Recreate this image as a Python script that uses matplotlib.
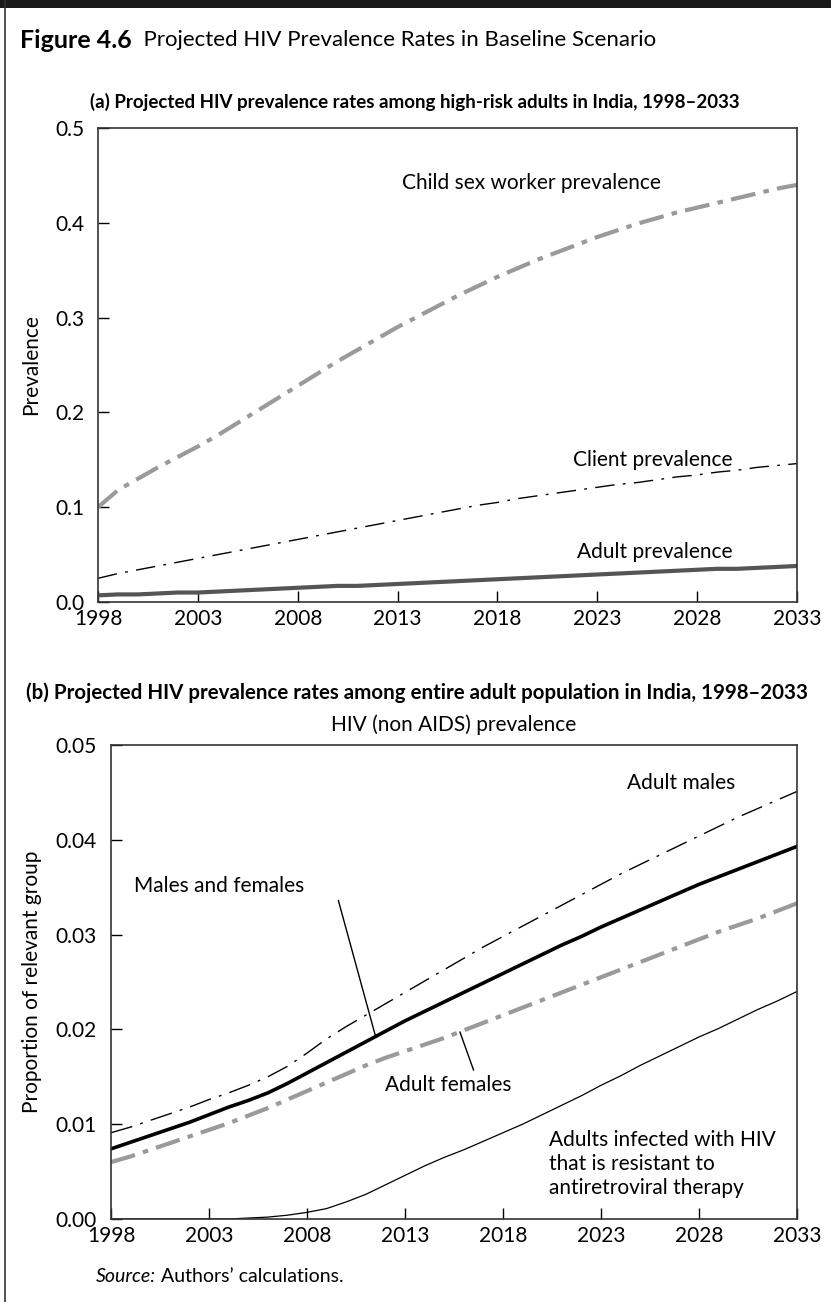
import matplotlib
matplotlib.use("Agg")
import matplotlib.pyplot as plt
from matplotlib.lines import Line2D
from matplotlib.patches import Rectangle
import numpy as np

plt.rcParams["font.family"] = ["Lato", "DejaVu Sans"]
plt.rcParams["lines.scale_dashes"] = False

years = list(range(1998, 2034))
xticks = [1998, 2003, 2008, 2013, 2018, 2023, 2028, 2033]

# panel (a): high-risk adults
child_sw = [0.100, 0.118, 0.130, 0.142, 0.153, 0.164, 0.176, 0.189, 0.202, 0.215,
            0.228, 0.241, 0.254, 0.266, 0.278, 0.290, 0.301, 0.312, 0.323, 0.333,
            0.343, 0.352, 0.361, 0.369, 0.377, 0.385, 0.392, 0.399, 0.405, 0.411,
            0.416, 0.421, 0.426, 0.431, 0.436, 0.440]
client = [0.025, 0.030, 0.034, 0.038, 0.042, 0.046, 0.050, 0.054, 0.058, 0.062,
          0.066, 0.070, 0.074, 0.078, 0.082, 0.086, 0.090, 0.094, 0.098, 0.102,
          0.105, 0.109, 0.112, 0.115, 0.118, 0.121, 0.124, 0.126, 0.129, 0.132,
          0.134, 0.137, 0.139, 0.142, 0.144, 0.146]
adult = [0.007, 0.008, 0.008, 0.009, 0.010, 0.010, 0.011, 0.012, 0.013, 0.014,
         0.015, 0.016, 0.017, 0.017, 0.018, 0.019, 0.020, 0.021, 0.022, 0.023,
         0.024, 0.025, 0.026, 0.027, 0.028, 0.029, 0.030, 0.031, 0.032, 0.033,
         0.034, 0.035, 0.035, 0.036, 0.037, 0.038]

# panel (b): entire adult population
males = [0.0091, 0.0097, 0.0104, 0.0111, 0.0118, 0.0126, 0.0133, 0.0141, 0.0150, 0.0161,
         0.0175, 0.0190, 0.0203, 0.0215, 0.0227, 0.0239, 0.0251, 0.0263, 0.0275, 0.0287,
         0.0298, 0.0309, 0.0320, 0.0331, 0.0342, 0.0353, 0.0364, 0.0374, 0.0384, 0.0394,
         0.0404, 0.0414, 0.0424, 0.0433, 0.0442, 0.0451]
both = [0.0074, 0.0081, 0.0088, 0.0095, 0.0102, 0.0110, 0.0118, 0.0125, 0.0133, 0.0143,
        0.0154, 0.0165, 0.0176, 0.0187, 0.0198, 0.0209, 0.0219, 0.0229, 0.0239, 0.0249,
        0.0259, 0.0269, 0.0279, 0.0289, 0.0298, 0.0308, 0.0317, 0.0326, 0.0335, 0.0344,
        0.0353, 0.0361, 0.0369, 0.0377, 0.0385, 0.0393]
females = [0.0060, 0.0066, 0.0073, 0.0080, 0.0087, 0.0094, 0.0101, 0.0109, 0.0117, 0.0126,
           0.0135, 0.0144, 0.0153, 0.0162, 0.0170, 0.0177, 0.0184, 0.0191, 0.0199, 0.0207,
           0.0215, 0.0223, 0.0231, 0.0239, 0.0247, 0.0255, 0.0263, 0.0271, 0.0279, 0.0287,
           0.0295, 0.0303, 0.0310, 0.0317, 0.0325, 0.0333]
resistant = [0, 0, 0, 0, 0, 0, 0, 0.0001, 0.0002, 0.0004,
             0.0007, 0.0011, 0.0018, 0.0026, 0.0036, 0.0046, 0.0056, 0.0065, 0.0073, 0.0082,
             0.0091, 0.0100, 0.0110, 0.0120, 0.0130, 0.0141, 0.0151, 0.0162, 0.0172, 0.0182,
             0.0192, 0.0201, 0.0211, 0.0221, 0.0230, 0.0240]

GREY = "#9a9a9a"
DARK = "#555555"
FS = 15

fig = plt.figure(figsize=(8.31, 13.02), dpi=100)

# frame of the book figure
fig.add_artist(Rectangle((0, 1 - 8 / 1302), 1, 8 / 1302, transform=fig.transFigure,
                         color="#1a1a1a", lw=0))
fig.add_artist(Line2D([5 / 831, 5 / 831], [0, 1], transform=fig.transFigure,
                      color="#333333", lw=1.2))

t = fig.text(20 / 831, 1 - 40 / 1302, "Figure 4.6", fontsize=18, fontweight="bold",
             va="center")
fig.add_artist(plt.Annotation("  Projected HIV Prevalence Rates in Baseline Scenario",
                              xy=(1, 0.5), xycoords=t, xytext=(0, 0),
                              textcoords="offset points", fontsize=16, va="center"))


def style_axis(ax, ylim, yticks, fmt):
    ax.set_xlim(1998, 2033)
    ax.set_ylim(*ylim)
    ax.set_xticks(xticks)
    ax.set_yticks(yticks)
    ax.set_yticklabels([fmt.format(v) for v in yticks])
    ax.tick_params(direction="in", length=8, width=1, labelsize=FS)
    ax.tick_params(axis="y", pad=10)
    ax.tick_params(axis="x", pad=5)
    for s in ax.spines.values():
        s.set_linewidth(1.2)
        s.set_color("#333333")


# ---- panel (a)
ax1 = fig.add_axes([98 / 831, 1 - 602 / 1302, 699 / 831, 474 / 1302])
ax1.plot(years, child_sw, color=GREY, lw=3, dashes=[18, 6, 4, 6])
ax1.plot(years, client, color="black", lw=1, dashes=[14, 6, 2, 6])
ax1.plot(years, adult, color=DARK, lw=3)
style_axis(ax1, (0, 0.5), [0, 0.1, 0.2, 0.3, 0.4, 0.5], "{:.1f}")
ax1.set_ylabel("Prevalence", fontsize=FS, labelpad=10)
ax1.text(2019.7, 0.442, "Child sex worker prevalence", fontsize=FS, ha="center", va="center")
ax1.text(2025.8, 0.150, "Client prevalence", fontsize=FS, ha="center", va="center")
ax1.text(2025.9, 0.0527, "Adult prevalence", fontsize=FS, ha="center", va="center")
fig.text(415 / 831, 1 - 102 / 1302,
         "(a) Projected HIV prevalence rates among high-risk adults in India, 1998\u20132033",
         fontsize=13.5, fontweight="bold", ha="center", va="center")

# ---- panel (b)
ax2 = fig.add_axes([111 / 831, 1 - 1219 / 1302, 686 / 831, 474 / 1302])
ax2.plot(years, males, color="black", lw=1, dashes=[16, 6, 2, 6])
ax2.plot(years, both, color="black", lw=2.6)
ax2.plot(years, females, color=GREY, lw=3, dashes=[18, 6, 4, 6])
ax2.plot(years, resistant, color="black", lw=0.9)
style_axis(ax2, (0, 0.05), [0, 0.01, 0.02, 0.03, 0.04, 0.05], "{:.2f}")
ax2.set_ylabel("Proportion of relevant group", fontsize=FS, labelpad=10)
ax2.set_title("HIV (non AIDS) prevalence", fontsize=FS, pad=10)
fig.text(417 / 831, 1 - 693 / 1302,
         "(b) Projected HIV prevalence rates among entire adult population in India, 1998\u20132033",
         fontsize=14.8, fontweight="bold", ha="center", va="center")

ax2.text(2027.1, 0.046, "Adult males", fontsize=FS, ha="center", va="center")
ax2.text(2003.5, 0.0351, "Males and females", fontsize=FS, ha="center", va="center")
ax2.annotate("", xy=(2011.5, np.interp(2011.5, years, both)), xytext=(2009.6, 0.0336),
             arrowprops=dict(arrowstyle="-", lw=1, color="black", shrinkA=0, shrinkB=0))
ax2.text(2015.2, 0.0141, "Adult females", fontsize=FS, ha="center", va="center")
ax2.annotate("", xy=(2015.8, np.interp(2015.8, years, females)), xytext=(2016.5, 0.0157),
             arrowprops=dict(arrowstyle="-", lw=1, color="black", shrinkA=0, shrinkB=0))
ax2.text(2020.35, 0.0058,
         "Adults infected with HIV\nthat is resistant to\nantiretroviral therapy",
         fontsize=FS, ha="left", va="center", linespacing=1.25)

src = fig.text(96 / 831, 1 - 1276 / 1302, "Source:", fontsize=14, style="italic",
               va="center")
fig.add_artist(plt.Annotation(" Authors\u2019 calculations.", xy=(1, 0.5), xycoords=src,
                              xytext=(0, 0), textcoords="offset points", fontsize=14,
                              va="center"))

fig.savefig("out.png", dpi=100)
